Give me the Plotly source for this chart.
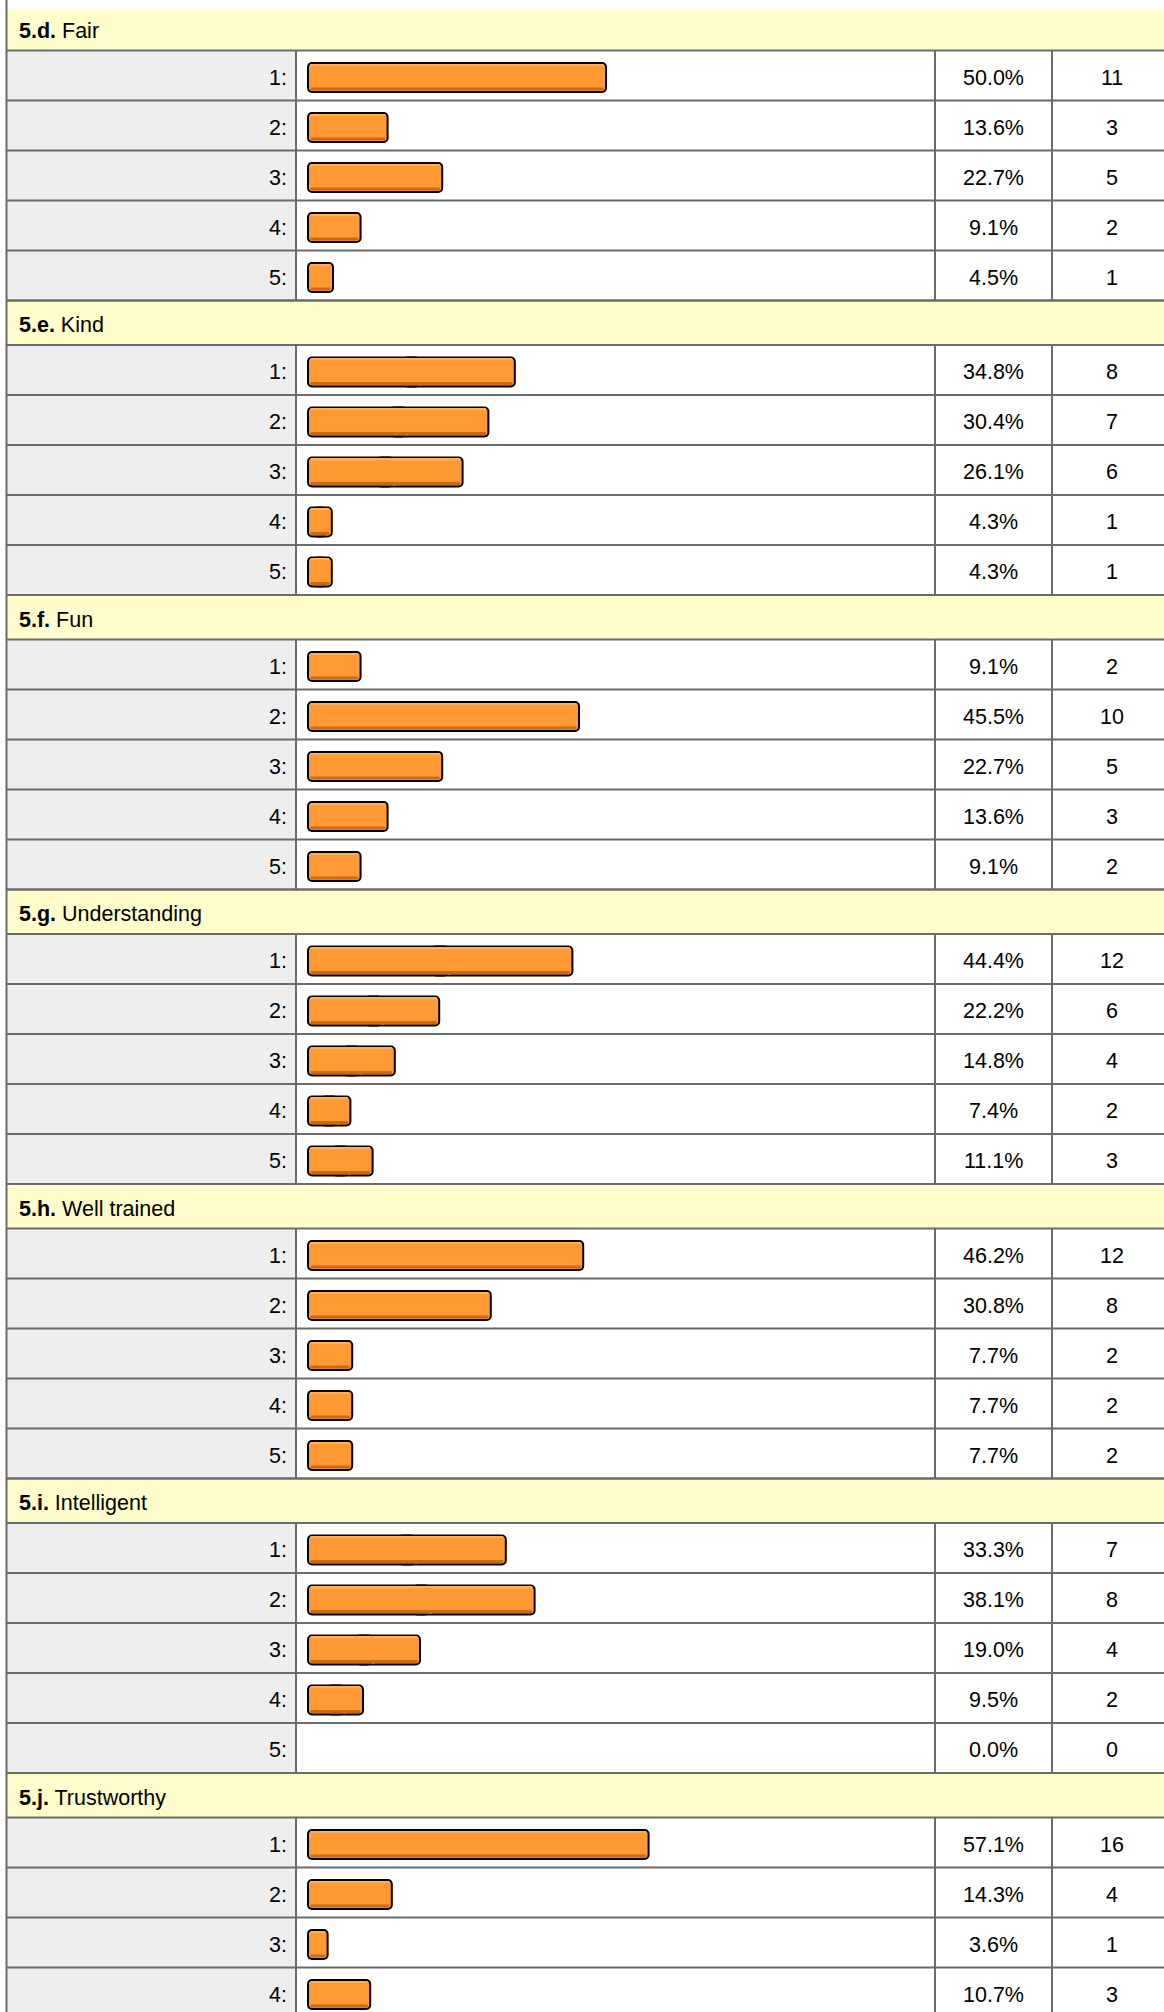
import plotly.graph_objects as go

# ---------------- data ----------------
section_codes = ["5.d.", "5.e.", "5.f.", "5.g.", "5.h.", "5.i.", "5.j."]
section_names = ["Fair", "Kind", "Fun", "Understanding", "Well trained", "Intelligent", "Trustworthy"]
row_labels = ["1:", "2:", "3:", "4:", "5:"]

fair_pct = [50.0, 13.6, 22.7, 9.1, 4.5]
fair_cnt = [11, 3, 5, 2, 1]
kind_pct = [34.8, 30.4, 26.1, 4.3, 4.3]
kind_cnt = [8, 7, 6, 1, 1]
fun_pct = [9.1, 45.5, 22.7, 13.6, 9.1]
fun_cnt = [2, 10, 5, 3, 2]
understanding_pct = [44.4, 22.2, 14.8, 7.4, 11.1]
understanding_cnt = [12, 6, 4, 2, 3]
well_trained_pct = [46.2, 30.8, 7.7, 7.7, 7.7]
well_trained_cnt = [12, 8, 2, 2, 2]
intelligent_pct = [33.3, 38.1, 19.0, 9.5, 0.0]
intelligent_cnt = [7, 8, 4, 2, 0]
trustworthy_pct = [57.1, 14.3, 3.6, 10.7]
trustworthy_cnt = [16, 4, 1, 3]

all_pct = [fair_pct, kind_pct, fun_pct, understanding_pct, well_trained_pct, intelligent_pct, trustworthy_pct]
all_cnt = [fair_cnt, kind_cnt, fun_cnt, understanding_cnt, well_trained_cnt, intelligent_cnt, trustworthy_cnt]

# ---------------- layout geometry (pixels) ----------------
W, H = 1164, 2012
TOP0 = 6.0          # header top line of first section
PERIOD = 294.5      # section height
HEAD_H = 44.5
ROW_H = 50.0
X_LEFT = 6.5
X_LABEL = 296
X_PCT = 935
X_CNT = 1052
BAR_X0 = 307
PX_PER_PCT = 6.0
BAR_H = 31
BORDER = 2
GRID = "#6b6b6b"
FONT = "Liberation Sans, Arial, sans-serif"
FS = 21.5
ORANGE = "#FF9933"

bg_shapes = []
line_shapes = []
annotations = []

def hline(y):
    line_shapes.append(dict(type="line", xref="x", yref="y", x0=X_LEFT, x1=W + 5, y0=y, y1=y,
                            line=dict(color=GRID, width=2), layer="below"))

def vline(x, y0, y1):
    line_shapes.append(dict(type="line", xref="x", yref="y", x0=x, x1=x, y0=y0, y1=y1,
                            line=dict(color=GRID, width=2), layer="below"))

bar_y, bar_pct = [], []

for s, (code, name) in enumerate(zip(section_codes, section_names)):
    top = TOP0 + PERIOD * s
    head_bot = top + HEAD_H
    bg_shapes.append(dict(type="rect", xref="x", yref="y", x0=X_LEFT, x1=W + 5,
                          y0=max(top, 9), y1=head_bot, fillcolor="#FFFDCC", line=dict(width=0), layer="below"))
    annotations.append(dict(xref="x", yref="y", x=17, y=top + 24.5, xanchor="left", yanchor="middle",
                            text=f"<b>{code}</b> {name}", showarrow=False,
                            font=dict(family=FONT, size=FS, color="black")))
    if s > 0:
        hline(top)
    hline(head_bot)
    pcts = all_pct[s]
    cnts = all_cnt[s]
    for r in range(len(pcts)):
        rt = head_bot + ROW_H * r
        rb = rt + ROW_H
        bg_shapes.append(dict(type="rect", xref="x", yref="y", x0=X_LEFT, x1=X_LABEL,
                              y0=rt, y1=rb, fillcolor="#EEEEEE", line=dict(width=0), layer="below"))
        hline(rb)
        for xv in (X_LABEL, X_PCT, X_CNT):
            vline(xv, rt, rb)
        cy = rt + 27
        annotations.append(dict(xref="x", yref="y", x=289, y=cy, xanchor="right", yanchor="middle",
                                text=row_labels[r], showarrow=False,
                                font=dict(family=FONT, size=FS, color="black")))
        annotations.append(dict(xref="x", yref="y", x=(X_PCT + X_CNT) / 2, y=cy, xanchor="center",
                                yanchor="middle", text=f"{pcts[r]:.1f}%", showarrow=False,
                                font=dict(family=FONT, size=FS, color="black")))
        annotations.append(dict(xref="x", yref="y", x=X_CNT + 60, y=cy, xanchor="center",
                                yanchor="middle", text=str(cnts[r]), showarrow=False,
                                font=dict(family=FONT, size=FS, color="black")))
        if pcts[r] > 0:
            bar_y.append(cy)
            bar_pct.append(pcts[r])

# left border
vline(X_LEFT, 0, H)

ins = BORDER / PX_PER_PCT       # border inset in percent units
mid = [p / 2 for p in bar_pct]
ov = [min(1.5, m * 0.6) for m in mid]   # overlap of the two halves (percent units)
# extra reach of the inner (orange) left piece so it hides the seam of the black piece
ext = [max(0.0, min(0.5, (p - ins) - (m + o) - 0.1)) for p, m, o in zip(bar_pct, mid, ov)]

fig = go.Figure()
common = dict(orientation="h", yaxis="y", hoverinfo="skip", showlegend=False)

def rounded(height, inset, color, radius, extra):
    # right piece on the normal axis: rounded at its far (right) end
    fig.add_trace(go.Bar(y=bar_y, base=[m - o for m, o in zip(mid, ov)],
                         x=[p - m + o - inset for p, m, o in zip(bar_pct, mid, ov)], width=height,
                         xaxis="x2",
                         marker=dict(color=color, line=dict(width=0), cornerradius=radius), **common))
    # left piece on the mirrored axis (100 - pct): rounded at its far end = left edge
    fig.add_trace(go.Bar(y=bar_y, base=[100 - m - o - e for m, o, e in zip(mid, ov, extra)],
                         x=[m + o + e - inset for m, o, e in zip(mid, ov, extra)], width=height,
                         xaxis="x3",
                         marker=dict(color=color, line=dict(width=0), cornerradius=radius), **common))

rounded(BAR_H, 0, "#000000", 5, [0.0] * len(bar_y))
rounded(BAR_H - 2 * BORDER, ins, ORANGE, 3, ext)

# shading drawn on the mirrored axis so it sits above both pieces
edge = ins + 0.25
shade_base = [100 - (p - edge) for p in bar_pct]
shade_len = [max(p - 2 * edge, 0) for p in bar_pct]
# darker bottom strip
fig.add_trace(go.Bar(y=[c + BAR_H / 2 - BORDER - 2 for c in bar_y], x=shade_len, base=shade_base,
                     width=3, xaxis="x3",
                     marker=dict(color="#CC6A0E", line=dict(width=0)), **common))
# light top highlight
fig.add_trace(go.Bar(y=[c - BAR_H / 2 + BORDER + 1 for c in bar_y], x=shade_len, base=shade_base,
                     width=1.5, xaxis="x3",
                     marker=dict(color="#FFAE55", line=dict(width=0)), **common))

bar_domain = [BAR_X0 / W, (BAR_X0 + 100 * PX_PER_PCT) / W]
fig.update_layout(
    width=W, height=H, autosize=False,
    margin=dict(l=0, r=0, t=0, b=0, pad=0),
    paper_bgcolor="white", plot_bgcolor="rgba(0,0,0,0)",
    barmode="overlay",
    xaxis=dict(range=[0, W], domain=[0, 1], visible=False, fixedrange=True),
    xaxis2=dict(range=[0, 100], domain=bar_domain, visible=False, anchor="y", fixedrange=True),
    xaxis3=dict(range=[100, 0], domain=bar_domain, visible=False, anchor="y", fixedrange=True),
    yaxis=dict(range=[H, 0], domain=[0, 1], visible=False, fixedrange=True),
    shapes=bg_shapes + line_shapes,
    annotations=annotations,
)

fig.write_html("out.html", config={"displayModeBar": False},
               post_script="document.body.style.margin='0';document.body.style.overflow='hidden';")
